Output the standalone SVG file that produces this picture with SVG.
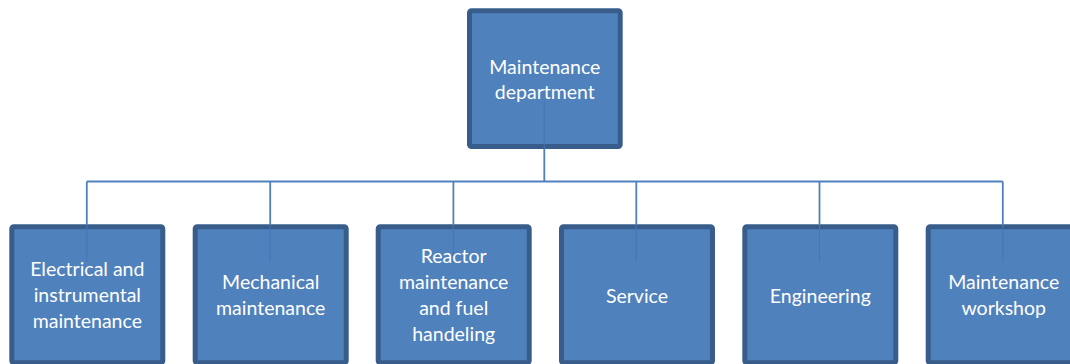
<svg xmlns="http://www.w3.org/2000/svg" width="1070" height="364" viewBox="0 0 1070 364">
<style>
.box{fill:#4f81bd;stroke:#385d8a;stroke-width:5;}
.lbl{fill:#ffffff;font-family:Lato,"Liberation Sans",sans-serif;font-size:19.5px;text-anchor:middle;}
.con{fill:none;stroke:#4f81bd;stroke-width:1.8;}
.conin{fill:none;stroke:#4676b2;stroke-width:1;}
</style>
<rect width="1070" height="364" fill="#ffffff"/>
<g id="node-top">
<rect class="box" x="469.5" y="10.8" width="150.7" height="135.7" rx="2"/>
</g>
<g id="node-1"><rect class="box" x="11.8" y="226.8" width="151" height="136" rx="2"/></g>
<g id="node-2"><rect class="box" x="195.2" y="226.8" width="151" height="136" rx="2"/></g>
<g id="node-3"><rect class="box" x="378.2" y="226.8" width="151" height="136" rx="2"/></g>
<g id="node-4"><rect class="box" x="561.5" y="226.8" width="151" height="136" rx="2"/></g>
<g id="node-5"><rect class="box" x="744.8" y="226.8" width="151" height="136" rx="2"/></g>
<g id="node-6"><rect class="box" x="928.2" y="226.8" width="151" height="136" rx="2"/></g>
<g id="connectors">
<path class="con" d="M544.3 148.5V181.5M86.8 181.5H1002.8M86.8 181.5V224.5M270.2 181.5V224.5M453.4 181.5V224.5M636.3 181.5V224.5M819.5 181.5V224.5M1002.8 181.5V224.5"/>
<path class="conin" d="M544.3 100V148.5M86.8 224.5V262M270.2 224.5V262M453.4 224.5V262M636.3 224.5V262M819.5 224.5V262M1002.8 224.5V262"/>
</g>
<g id="labels">
<text class="lbl" x="544.8"><tspan x="544.8" y="73.5">Maintenance</tspan><tspan x="544.8" y="99.2">department</tspan></text>
<text class="lbl" x="87.3"><tspan x="87.3" y="276.3">Electrical and</tspan><tspan x="87.3" y="302">instrumental</tspan><tspan x="87.3" y="327.7">maintenance</tspan></text>
<text class="lbl" x="270.7"><tspan x="270.7" y="289.4">Mechanical</tspan><tspan x="270.7" y="315.1">maintenance</tspan></text>
<text class="lbl" x="453.7"><tspan x="453.7" y="263.2">Reactor</tspan><tspan x="453.7" y="289">maintenance</tspan><tspan x="453.7" y="314.8">and fuel</tspan><tspan x="453.7" y="340.6">handeling</tspan></text>
<text class="lbl" x="637" y="303.3">Service</text>
<text class="lbl" x="820.3" y="303.3">Engineering</text>
<text class="lbl" x="1003.7"><tspan x="1003.7" y="289.4">Maintenance</tspan><tspan x="1003.7" y="315.1">workshop</tspan></text>
</g>
</svg>
